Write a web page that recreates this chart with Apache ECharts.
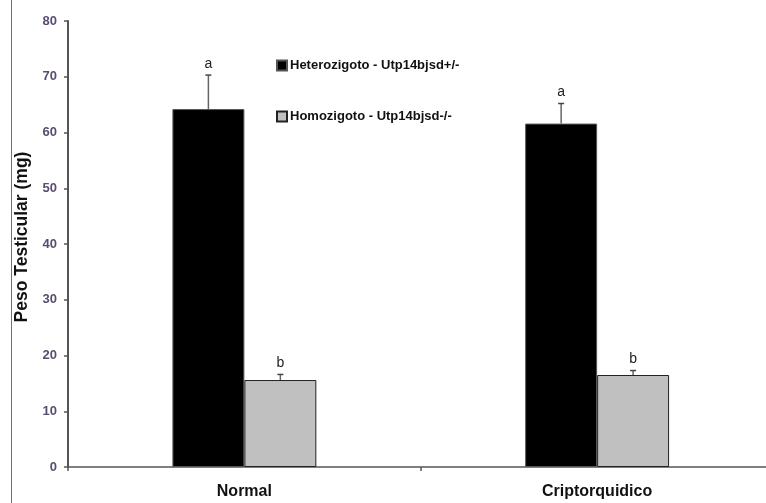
<!DOCTYPE html>
<html><head><meta charset="utf-8">
<script src="https://cdn.jsdelivr.net/npm/echarts@6/dist/echarts.min.js"></script>
<style>html,body{margin:0;padding:0;background:#fff;overflow:hidden;width:766px;height:503px}#c{width:774px;height:503px}</style>
</head><body><div id="c"></div>
<script>
const categories = ['Normal', 'Criptorquidico'];
const seriesNames = ['Heterozigoto - Utp14bjsd+/-', 'Homozigoto - Utp14bjsd-/-'];
const hetValues = [64.2, 61.6];
const hetErrors = [6.1, 3.6];
const homValues = [15.6, 16.5];
const homErrors = [1.0, 0.8];
const hetLetters = ['a', 'a'];
const homLetters = ['b', 'b'];
const yTicks = [0, 10, 20, 30, 40, 50, 60, 70, 80];

const chart = echarts.init(document.getElementById('c'), null, {renderer: 'canvas'});

function errSeries(values, errors, letters, seriesIndexOffset) {
  return {
    type: 'custom',
    name: 'err' + seriesIndexOffset,
    z: 10,
    silent: true,
    data: values.map((v, i) => [i, v, v + errors[i], letters[i]]),
    renderItem: function (params, api) {
      const ci = api.value(0);
      const base = api.coord([ci, api.value(1)]);
      const top = api.coord([ci, api.value(2)]);
      const bw = api.size([1, 0])[0];
      const barW = bw * 0.204;
      const x = base[0] + (seriesIndexOffset === 0 ? -barW / 2 : barW / 2);
      return {
        type: 'group',
        children: [
          {type: 'line', shape: {x1: x, y1: base[1], x2: x, y2: top[1]}, style: {stroke: '#666', lineWidth: 1.5}},
          {type: 'line', shape: {x1: x - 3, y1: top[1], x2: x + 3, y2: top[1]}, style: {stroke: '#444', lineWidth: 1.5}},
          {type: 'text', x: x, y: top[1] - 4, style: {text: api.value(3), fontFamily: 'Liberation Sans, Arial', fontSize: 14, fill: '#222', align: 'center', verticalAlign: 'bottom'}}
        ]
      };
    }
  };
}

chart.setOption({
  animation: false,
  backgroundColor: '#fff',
  grid: {left: 68, top: 21, bottom: 36, right: 0.5, containLabel: false},
  legend: {
    data: seriesNames,
    orient: 'vertical',
    left: 271,
    top: 54,
    itemGap: 38,
    itemWidth: 10,
    itemHeight: 10,
    icon: 'rect',
    textStyle: {fontFamily: 'Liberation Sans, Arial', fontWeight: 'bold', fontSize: 13, color: '#111', padding: [0,0,0,-2]},
    selectedMode: false
  },
  xAxis: {
    type: 'category',
    data: categories,
    axisLine: {lineStyle: {color: '#555', width: 1.5}},
    axisTick: {show: true, length: 4, lineStyle: {color: '#555', width: 1.5}},
    axisLabel: {fontFamily: 'Liberation Sans, Arial', fontWeight: 'bold', fontSize: 16, color: '#111', margin: 17}
  },
  yAxis: {
    type: 'value',
    min: yTicks[0], max: yTicks[yTicks.length - 1], interval: 10,
    name: 'Peso Testicular (mg)',
    nameLocation: 'middle',
    nameGap: 31,
    nameTextStyle: {fontFamily: 'Liberation Sans, Arial', fontWeight: 'bold', fontSize: 17.5, color: '#111', padding: [0, 0, 0, 14]},
    axisLine: {show: true, lineStyle: {color: '#555', width: 2}},
    axisTick: {show: true, length: 4, lineStyle: {color: '#555', width: 1.5}},
    splitLine: {show: false},
    axisLabel: {fontFamily: 'Liberation Sans, Arial', fontWeight: 'bold', fontSize: 13, color: '#5a4c70', margin: 11}
  },
  graphic: [{type: 'line', shape: {x1: 11.5, y1: 0, x2: 11.5, y2: 503}, style: {stroke: '#5675a5', lineWidth: 1}}],
  series: [
    {name: seriesNames[0], type: 'bar', data: hetValues, barWidth: '20.4%', barGap: '0%',
     itemStyle: {color: '#000', borderColor: '#555', borderWidth: 1}},
    {name: seriesNames[1], type: 'bar', data: homValues, barWidth: '20.4%',
     itemStyle: {color: '#c0c0c0', borderColor: '#222', borderWidth: 1}},
    errSeries(hetValues, hetErrors, hetLetters, 0),
    errSeries(homValues, homErrors, homLetters, 1)
  ]
});
</script></body></html>
